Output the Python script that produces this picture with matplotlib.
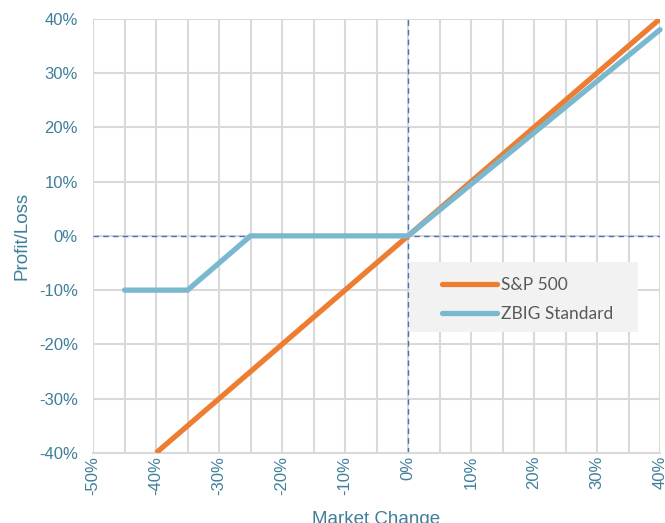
import matplotlib.pyplot as plt
from matplotlib.patches import Rectangle
from matplotlib.ticker import FuncFormatter, MultipleLocator

# данные (в процентах)
sp_x = [-40, -30, -20, -10, 0, 10, 20, 30, 40]
sp_y = [-40, -30, -20, -10, 0, 10, 20, 30, 40]
zbig_x = [-45, -40, -35, -30, -25, -20, -10, 0, 10, 20, 30, 40]
zbig_y = [-10, -10, -10, -5, 0, 0, 0, 0, 9.5, 19, 28.5, 38]

x_ticks = [-50, -40, -30, -20, -10, 0, 10, 20, 30, 40]
y_ticks = [-40, -30, -20, -10, 0, 10, 20, 30, 40]

text_color = '#3F7F99'
grid_color = '#D9D9D9'

plt.rcParams['font.family'] = ['Liberation Sans', 'DejaVu Sans']

fig = plt.figure(figsize=(6.65, 5.23), dpi=100)
ax = fig.add_axes([0.14, 0.134, 0.8525, 0.83])

ax.set_xlim(-50, 40)
ax.set_ylim(-40, 40)

# сетка: вертикальные линии каждые 5%, горизонтальные каждые 10%
ax.xaxis.set_minor_locator(MultipleLocator(5))
ax.set_xticks(x_ticks)
ax.set_yticks(y_ticks)
ax.grid(True, which='both', axis='x', color=grid_color, linewidth=1.5)
ax.grid(True, which='major', axis='y', color=grid_color, linewidth=1.5)
ax.set_axisbelow(True)

for side in ['top', 'right', 'left']:
    ax.spines[side].set_visible(False)
ax.spines['bottom'].set_color(grid_color)
ax.spines['bottom'].set_linewidth(1.5)
ax.tick_params(which='both', length=0)
ax.tick_params(axis='both', colors=text_color, labelsize=12)
ax.tick_params(axis='x', rotation=90, pad=2)
ax.tick_params(axis='y', pad=11)

pct = FuncFormatter(lambda v, _: '{:.0f}%'.format(v))
ax.xaxis.set_major_formatter(pct)
ax.yaxis.set_major_formatter(pct)

# пунктирные оси через ноль
ax.axhline(0, color='#4472C4', linestyle=(0, (4, 3)), linewidth=1.0, zorder=2)
ax.axvline(0, color='#4472C4', linestyle=(0, (4, 3)), linewidth=1.0, zorder=2)

ax.plot(sp_x, sp_y, color='#ED7D31', linewidth=3.8, label='S&P 500',
        solid_capstyle='butt', zorder=3)
ax.plot(zbig_x, zbig_y, color='#79B8CE', linewidth=3.8, label='ZBIG Standard',
        solid_capstyle='round', zorder=4, clip_on=False)

ax.set_xlabel('Market Change', color=text_color, fontsize=13.5, labelpad=12)
ax.set_ylabel('Profit/Loss', color=text_color, fontsize=13.5, labelpad=6)

# серый фон легенды
ax.add_patch(Rectangle((0.559, 0.279), 0.402, 0.161, transform=ax.transAxes,
                       facecolor='#F2F2F2', edgecolor='none', zorder=5))

leg = ax.legend(loc='upper left', bbox_to_anchor=(0.6, 0.425),
                frameon=False, handlelength=3.2, handletextpad=0.2,
                labelspacing=0.75, borderpad=0,
                prop={'family': ['Lato', 'DejaVu Sans'], 'size': 12.5})
leg.set_zorder(6)
for line in leg.get_lines():
    line.set_solid_capstyle('round')
for t in leg.get_texts():
    t.set_color('#595959')

plt.savefig('out.png', dpi=100)
